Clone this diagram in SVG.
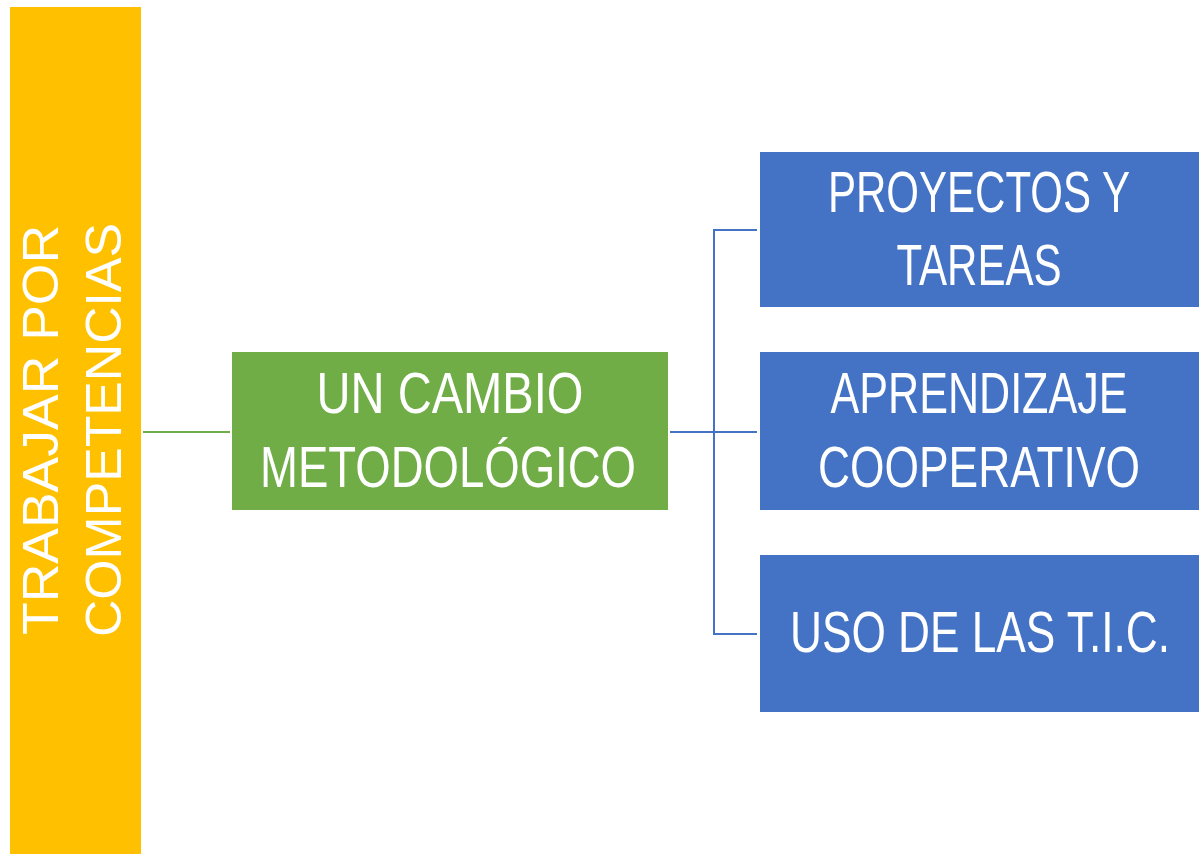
<svg xmlns="http://www.w3.org/2000/svg" width="1199" height="854" viewBox="0 0 1199 854">
<style>
.t{font-family:"Liberation Sans",Arial,sans-serif;fill:#fff;text-anchor:middle}
.b{font-size:58px}
.y{font-size:50px}
.c{fill:none;stroke-width:2}
</style>
<rect x="0" y="0" width="1199" height="854" fill="#fff"/>
<g id="connectors">
<line class="c" x1="143" y1="432" x2="230" y2="432" stroke="#70AD47"/>
<polyline class="c" points="670,432 757,432" stroke="#4472C4"/>
<polyline class="c" points="757,230 714,230 714,634 757,634" stroke="#4472C4"/>
</g>
<g id="node-competencias">
<rect x="10" y="7" width="131" height="847" fill="#FFC000"/>
<text class="t y" transform="translate(58,430) rotate(-90)" textLength="410" lengthAdjust="spacingAndGlyphs">TRABAJAR POR</text>
<text class="t y" transform="translate(121,430) rotate(-90)" textLength="414" lengthAdjust="spacingAndGlyphs">COMPETENCIAS</text>
</g>
<g id="node-cambio">
<rect x="232" y="352" width="436" height="158" fill="#70AD47"/>
<text class="t b" x="450" y="413" textLength="267" lengthAdjust="spacingAndGlyphs">UN CAMBIO</text>
<text class="t b" x="448" y="487" textLength="376" lengthAdjust="spacingAndGlyphs">METODOLÓGICO</text>
</g>
<g id="node-proyectos">
<rect x="760" y="152" width="439" height="155" fill="#4472C4"/>
<text class="t b" x="979" y="212" textLength="302" lengthAdjust="spacingAndGlyphs">PROYECTOS Y</text>
<text class="t b" x="979" y="285" textLength="165" lengthAdjust="spacingAndGlyphs">TAREAS</text>
</g>
<g id="node-aprendizaje">
<rect x="760" y="352" width="439" height="158" fill="#4472C4"/>
<text class="t b" x="979" y="413" textLength="297" lengthAdjust="spacingAndGlyphs">APRENDIZAJE</text>
<text class="t b" x="979" y="487" textLength="322" lengthAdjust="spacingAndGlyphs">COOPERATIVO</text>
</g>
<g id="node-tic">
<rect x="760" y="555" width="439" height="157" fill="#4472C4"/>
<text class="t b" x="980" y="652" textLength="380" lengthAdjust="spacingAndGlyphs">USO DE LAS T.I.C.</text>
</g>
</svg>
